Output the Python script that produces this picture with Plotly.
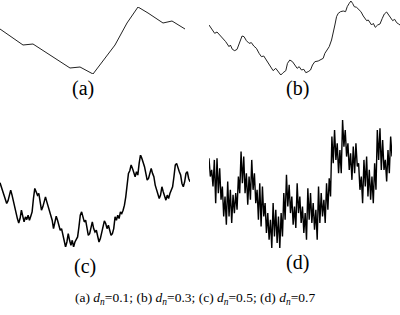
import plotly.graph_objects as go

# ---- data ----
a_t = [0, 23, 33, 50, 70, 80, 93, 115, 127, 138, 148, 163, 172, 185]
a_v = [45, 29, 30, 19, 6, 7, 0, 29, 51, 67, 61, 51, 53, 45]

b_t = [28, 38, 45, 52, 58, 68, 78, 88, 92, 98, 105, 112, 120, 127, 133, 140, 148, 155, 162, 170,
       178, 185, 192, 200, 207, 213, 220, 228, 235, 243, 250, 258, 263, 270, 278, 285, 292, 298, 305, 312,
       318, 325, 332, 338, 345, 355, 362, 370, 375, 382, 388, 395, 400, 405, 410, 415, 422, 430, 437, 442,
       448, 453, 458, 463, 470, 478, 483, 490, 495, 500, 505, 510, 515, 520, 526, 533, 540, 547, 553, 560,
       566, 572, 578, 584, 590, 596, 600]
b_v = [155, 142, 130, 134, 128, 115, 105, 90, 95, 82, 78, 82, 105, 122, 120, 108, 100, 102, 92, 85,
       70, 60, 62, 50, 40, 30, 18, 25, 15, 5, 12, 18, 40, 50, 45, 35, 25, 30, 20, 22,
       12, 15, 20, 35, 45, 47, 50, 55, 70, 80, 90, 110, 130, 155, 180, 190, 195, 197, 195, 210,
       220, 227, 220, 210, 208, 200, 195, 182, 175, 168, 170, 160, 155, 160, 148, 155, 158, 175, 188, 194,
       185, 175, 168, 172, 162, 158, 155]

c_v = [202, 190, 180, 165, 150, 140, 148, 170, 180, 165, 145, 130, 115, 95, 82, 95, 120, 105, 85, 100,
       92, 105, 90, 102, 115, 155, 185, 175, 165, 170, 140, 120, 130, 150, 160, 145, 130, 115, 105, 90,
       65, 80, 102, 90, 75, 60, 65, 45, 30, 10, 25, 50, 30, 15, 30, 10, 25, 35, 40, 70,
       105, 115, 95, 85, 90, 65, 45, 50, 70, 85, 65, 55, 60, 40, 25, 35, 50, 70, 88, 80,
       65, 75, 60, 45, 50, 65, 100, 90, 105, 95, 115, 110, 120, 135, 160, 200, 230, 238, 255, 245,
       230, 220, 235, 225, 260, 285, 275, 265, 250, 230, 210, 215, 235, 245, 230, 220, 195, 180, 165, 155,
       165, 190, 175, 160, 150, 165, 155, 170, 180, 190, 220, 255, 260, 245, 235, 225, 200, 190, 205, 230,
       235, 215, 205]

d_v = [275, 220, 240, 190, 270, 140, 275, 170, 245, 150, 190, 100, 160, 75, 205, 100, 180, 80, 165, 110,
       170, 120, 220, 170, 295, 200, 280, 170, 230, 135, 220, 150, 270, 180, 230, 140, 180, 90, 200, 70,
       190, 100, 140, 50, 110, 30, 90, 5, 140, 40, 120, 20, 100, 5, 110, 40, 170, 90, 225, 130,
       195, 110, 160, 75, 130, 65, 200, 110, 160, 80, 130, 50, 110, 30, 185, 90, 170, 80, 140, 60,
       120, 30, 190, 80, 170, 100, 150, 80, 200, 120, 215, 160, 340, 260, 360, 270, 320, 230, 300, 230,
       390, 310, 360, 280, 320, 240, 290, 210, 310, 230, 320, 250, 260, 180, 220, 140, 270, 190, 280, 160,
       240, 150, 220, 140, 260, 180, 360, 270, 365, 240, 330, 240, 270, 205, 300, 230, 340, 280]

labels = ["(a)", "(b)", "(c)", "(d)"]
caption = ("(a) <i>d<sub>n</sub></i>=0.1; (b) <i>d<sub>n</sub></i>=0.3; "
           "(c) <i>d<sub>n</sub></i>=0.5; (d) <i>d<sub>n</sub></i>=0.7")

W, H = 400, 315
def px_dom_x(x0, x1):
    return [x0 / W, x1 / W]
def px_dom_y(top, bottom):
    return [1 - bottom / H, 1 - top / H]

panels = [
    (a_t, a_v, px_dom_x(0, 185), px_dom_y(7, 74), 1.0, "#222"),
    (b_t, b_v, px_dom_x(209, 400), px_dom_y(1, 75), 1.0, "#222"),
    (list(range(len(c_v))), c_v, px_dom_x(0, 190), px_dom_y(155, 247), 1.5, "#000"),
    (list(range(len(d_v))), d_v, px_dom_x(209, 392), px_dom_y(120, 248), 1.4, "#000"),
]

fig = go.Figure()
layout = dict(width=W, height=H, margin=dict(l=0, r=0, t=0, b=0),
              paper_bgcolor="white", plot_bgcolor="white", showlegend=False)
for i, (t, v, dx, dy, lw, col) in enumerate(panels, start=1):
    sfx = "" if i == 1 else str(i)
    fig.add_trace(go.Scatter(x=t, y=v, mode="lines", line=dict(color=col, width=lw),
                             xaxis="x" + sfx, yaxis="y" + sfx, hoverinfo="skip"))
    layout["xaxis" + sfx] = dict(domain=dx, range=[min(t), max(t)], visible=False,
                                 anchor="y" + sfx, fixedrange=True)
    layout["yaxis" + sfx] = dict(domain=dy, range=[min(v), max(v)], visible=False,
                                 anchor="x" + sfx, fixedrange=True)
fig.update_layout(**layout)

font = dict(family="Liberation Serif", color="black")
label_pos = [(83, 88), (297, 88), (85, 266), (297, 262)]
for lab, (lx, ly) in zip(labels, label_pos):
    fig.add_annotation(text=lab, x=lx / W, y=1 - ly / H, xref="paper", yref="paper",
                       showarrow=False, font=dict(size=20, **font), xanchor="center", yanchor="middle")
fig.add_annotation(text=caption, x=195 / W, y=1 - 298 / H, xref="paper", yref="paper",
                   showarrow=False, font=dict(size=13.5, **font), xanchor="center", yanchor="middle")

fig.write_html("out.html")
